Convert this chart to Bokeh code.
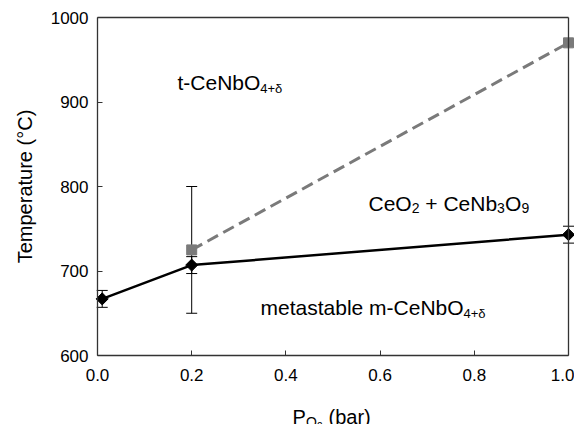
from bokeh.plotting import figure
from bokeh.models import (ColumnDataSource, Whisker, TeeHead, Label, FixedTicker,
                          NumeralTickFormatter, Range1d, LinearAxis)
from bokeh.embed import file_html
from bokeh.resources import INLINE

# ---- data ----
black_x = [0.01, 0.2, 1.0]
black_y = [667, 707, 743]
black_err = [10, 10, 10]

gray_x = [0.2, 1.0]
gray_y = [725, 970]
gray_err_x = [0.2]
gray_err_lo = [650]
gray_err_hi = [800]

x_ticks = [0.0, 0.2, 0.4, 0.6, 0.8, 1.0]
y_ticks = [600, 700, 800, 900, 1000]
X_MIN, X_MAX = 0.0, 1.0
Y_MIN, Y_MAX = 600, 1000

FONT = "Liberation Sans"
AX = "#333333"

# The frame covers the whole canvas; the axes sit at fixed data locations so that
# tick labels and the subscripted x title are never clipped.
W, H = 574, 424
LEFT, TOP, RIGHT_EDGE, BOTTOM_EDGE = 97, 17, 568, 355
sx = (X_MAX - X_MIN) / (RIGHT_EDGE - LEFT)
sy = (Y_MAX - Y_MIN) / (BOTTOM_EDGE - TOP)
xr = Range1d(X_MIN - LEFT * sx, X_MAX + (W - RIGHT_EDGE) * sx)
yr = Range1d(Y_MIN - (H - BOTTOM_EDGE) * sy, Y_MAX + TOP * sy)

p = figure(width=W, height=H, output_backend="svg", toolbar_location=None,
           x_range=xr, y_range=yr, x_axis_location=None, y_axis_location=None,
           min_border_left=0, min_border_right=0, min_border_top=0, min_border_bottom=0)
p.background_fill_color = "white"
p.border_fill_color = "white"
p.grid.visible = False
p.outline_line_color = None

def style(ax):
    ax.axis_line_color = AX
    ax.axis_line_width = 1.3
    ax.major_tick_in = 5
    ax.major_tick_out = 0
    ax.major_tick_line_color = AX
    ax.minor_tick_line_color = None
    ax.major_label_text_font = FONT
    ax.major_label_text_font_size = "17px"
    ax.major_label_text_color = "black"

yax = LinearAxis(ticker=FixedTicker(ticks=y_ticks), bounds=(Y_MIN, Y_MAX), fixed_location=X_MIN)
style(yax)
yax.major_label_standoff = 9
yax.axis_label = "Temperature (°C)"
yax.axis_label_text_font = FONT
yax.axis_label_text_font_size = "20px"
yax.axis_label_text_font_style = "normal"
yax.axis_label_text_color = "black"
yax.axis_label_standoff = 12
p.add_layout(yax, "left")

xax = LinearAxis(ticker=FixedTicker(ticks=x_ticks), formatter=NumeralTickFormatter(format="0.0"),
                 bounds=(X_MIN, X_MAX), fixed_location=Y_MIN)
style(xax)
xax.major_label_standoff = 13
p.add_layout(xax, "below")

def plain(ax):
    ax.axis_line_color = AX
    ax.axis_line_width = 1.3
    ax.major_tick_in = 0
    ax.major_tick_out = 0
    ax.minor_tick_line_color = None
    ax.major_label_text_font_size = "0px"

top = LinearAxis(ticker=FixedTicker(ticks=[]), bounds=(X_MIN, X_MAX), fixed_location=Y_MAX)
plain(top)
p.add_layout(top, "above")
right = LinearAxis(ticker=FixedTicker(ticks=[]), bounds=(Y_MIN, Y_MAX), fixed_location=X_MAX)
plain(right)
p.add_layout(right, "right")

# error bars
bsrc = ColumnDataSource(dict(x=black_x, y=black_y,
                             lo=[v - e for v, e in zip(black_y, black_err)],
                             hi=[v + e for v, e in zip(black_y, black_err)]))
gsrc_e = ColumnDataSource(dict(x=gray_err_x, lo=gray_err_lo, hi=gray_err_hi))
for src in (gsrc_e, bsrc):
    w = Whisker(source=src, base="x", lower="lo", upper="hi", line_color="black", line_width=1,
                upper_head=TeeHead(size=11, line_color="black", line_width=1),
                lower_head=TeeHead(size=11, line_color="black", line_width=1))
    p.add_layout(w)

# lines
p.line(gray_x, gray_y, line_color="#7a7a7a", line_width=3, line_dash="12 6")
p.scatter(gray_x, gray_y, marker="square", size=10, fill_color="#7a7a7a", line_color="#7a7a7a")
p.line(black_x, black_y, line_color="black", line_width=2.5)
p.scatter(black_x, black_y, marker="square", angle=0.785398, size=8.5, fill_color="black", line_color="black")

def lab(x, y, text, size):
    p.add_layout(Label(x=x, y=y, text=text, text_font=FONT, text_font_size=size,
                       text_color="black", text_baseline="alphabetic", text_align="left"))

# region labels
lab(0.1699, 923, "t-CeNbO", "21px")
lab(0.3456, 916, "4+δ", "13px")

lab(0.3461, 656.8, "metastable m-CeNbO", "21px")
lab(0.7771, 649.7, "4+δ", "13px")

lab(0.5754, 779.9, "CeO", "21px")
lab(0.6671, 774, "2", "14px")
lab(0.6960, 779.9, "+ CeNb", "21px")
lab(0.8484, 774, "3", "14px")
lab(0.8650, 779.9, "O", "21px")
lab(0.9001, 774, "9", "14px")

# x axis title  P_{O2} (bar)
lab(0.4140, 527.5, "P", "20px")
lab(0.4427, 521.0, "O", "14px")
lab(0.4660, 517.0, "2", "10px")
lab(0.4904, 527.5, "(bar)", "20px")

open("out.html", "w").write(file_html(p, INLINE))
